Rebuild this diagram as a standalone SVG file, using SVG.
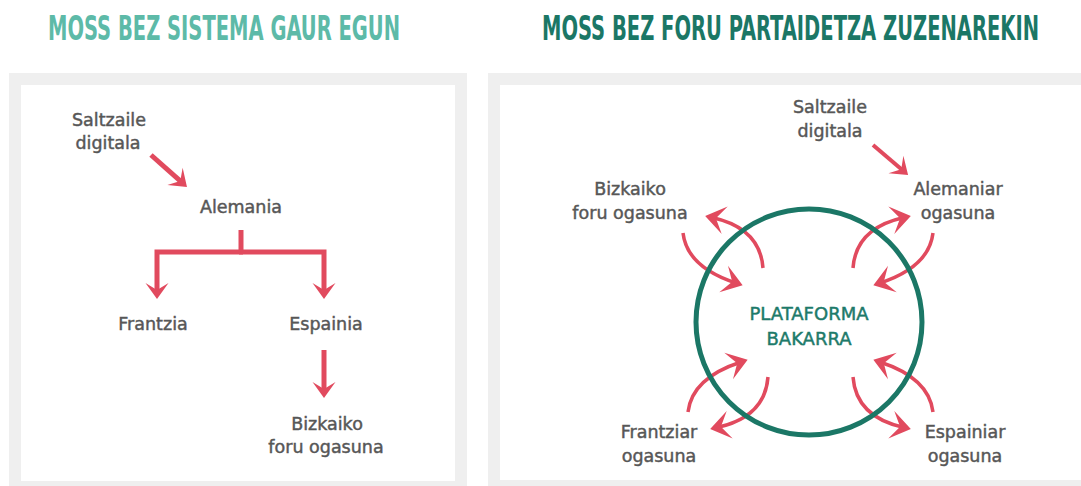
<svg xmlns="http://www.w3.org/2000/svg" width="1081" height="486" viewBox="0 0 1081 486">
<style>
.title{font-family:"DejaVu Sans Condensed","DejaVu Sans",sans-serif;font-weight:bold;font-size:22.5px}
.lbl{font-family:"DejaVu Sans",sans-serif;font-size:17.5px;fill:#575757;stroke:#575757;stroke-width:0.45;text-anchor:middle}
.plat{font-family:"DejaVu Sans",sans-serif;font-size:18px;fill:#1d7a6a;stroke:#1d7a6a;stroke-width:0.45;text-anchor:middle}
.frame{fill:#efefef}
.inner{fill:#ffffff}
.arr{fill:none;stroke:#e14a5e}
.thick{stroke-width:5}
.med{stroke-width:4}
.thin{stroke-width:3.5}
</style>
<defs>
<marker id="ahL" viewBox="-17 -12 18 24" refX="-8" refY="0" markerWidth="18" markerHeight="24" markerUnits="userSpaceOnUse" orient="auto">
<path d="M0,0 L-16,-11.5 L-9,0 L-16,11.5 Z" fill="#e14a5e"/>
</marker>
<marker id="ahC" viewBox="-22 -16 23 32" refX="-7" refY="0" markerWidth="23" markerHeight="32" markerUnits="userSpaceOnUse" orient="auto">
<path d="M0,0 L-20,-14 L-11,0 L-20,14 Z" fill="#e14a5e"/>
</marker>
</defs>
<rect width="1081" height="486" fill="#ffffff"/>
<g id="titles">
<text class="title" transform="translate(48,40) scale(1,1.5)" x="0" y="0" fill="#5dbaa8" textLength="352" lengthAdjust="spacingAndGlyphs">MOSS BEZ SISTEMA GAUR EGUN</text>
<text class="title" transform="translate(542,40) scale(1,1.5)" x="0" y="0" fill="#1b7766" textLength="497" lengthAdjust="spacingAndGlyphs">MOSS BEZ FORU PARTAIDETZA ZUZENAREKIN</text>
</g>
<g id="panel-left">
<rect class="frame" x="9" y="73" width="458" height="420"/>
<rect class="inner" x="21" y="85" width="434" height="396"/>
</g>
<g id="panel-right">
<rect class="frame" x="488" y="73" width="600" height="420"/>
<rect class="inner" x="500" y="85" width="590" height="395"/>
</g>
<g id="connectors">
<path class="arr thick" d="M151,155 L181,181.7" marker-end="url(#ahL)"/>
<path class="arr thick" d="M241,230 V252"/>
<path class="arr thick" d="M243,252 H157 V291" marker-end="url(#ahL)"/>
<path class="arr thick" d="M239,252 H324 V291" marker-end="url(#ahL)"/>
<path class="arr thick" d="M324,350 V390" marker-end="url(#ahL)"/>
<path class="arr med" d="M873,145 L902,169.8" marker-end="url(#ahL)"/>
<path class="arr thin" d="M763,268 Q760,228 712,217.5" marker-end="url(#ahC)"/>
<path class="arr thin" d="M683,233 Q687,267 736,283" marker-end="url(#ahC)"/>
<path class="arr thin" d="M853,268 Q856,228 904,217.5" marker-end="url(#ahC)"/>
<path class="arr thin" d="M933,233 Q929,267 880,283" marker-end="url(#ahC)"/>
<path class="arr thin" d="M768,377 Q765,417 717,427.5" marker-end="url(#ahC)"/>
<path class="arr thin" d="M688,412 Q692,378 741,362" marker-end="url(#ahC)"/>
<path class="arr thin" d="M853,377 Q856,417 904,427.5" marker-end="url(#ahC)"/>
<path class="arr thin" d="M933,412 Q929,378 880,362" marker-end="url(#ahC)"/>
</g>
<g id="node-saltzaile-left"><text class="lbl" x="109" y="126">Saltzaile</text><text class="lbl" x="108" y="149">digitala</text></g>
<g id="node-alemania"><text class="lbl" x="241" y="213">Alemania</text></g>
<g id="node-frantzia"><text class="lbl" x="153" y="330">Frantzia</text></g>
<g id="node-espainia"><text class="lbl" x="326" y="330">Espainia</text></g>
<g id="node-bizkaiko-left"><text class="lbl" x="327" y="430">Bizkaiko</text><text class="lbl" x="326" y="453">foru ogasuna</text></g>
<g id="node-plataforma">
<circle cx="809" cy="322" r="113" fill="none" stroke="#1b7766" stroke-width="5"/>
<text class="plat" x="809" y="320">PLATAFORMA</text>
<text class="plat" x="809" y="345">BAKARRA</text>
</g>
<g id="node-saltzaile-right"><text class="lbl" x="830" y="113">Saltzaile</text><text class="lbl" x="830" y="137">digitala</text></g>
<g id="node-bizkaiko-right"><text class="lbl" x="630" y="195">Bizkaiko</text><text class="lbl" x="630" y="219">foru ogasuna</text></g>
<g id="node-alemaniar"><text class="lbl" x="958" y="195">Alemaniar</text><text class="lbl" x="958" y="219">ogasuna</text></g>
<g id="node-frantziar"><text class="lbl" x="659" y="438">Frantziar</text><text class="lbl" x="659" y="462">ogasuna</text></g>
<g id="node-espainiar"><text class="lbl" x="965" y="438">Espainiar</text><text class="lbl" x="965" y="462">ogasuna</text></g>
</svg>
